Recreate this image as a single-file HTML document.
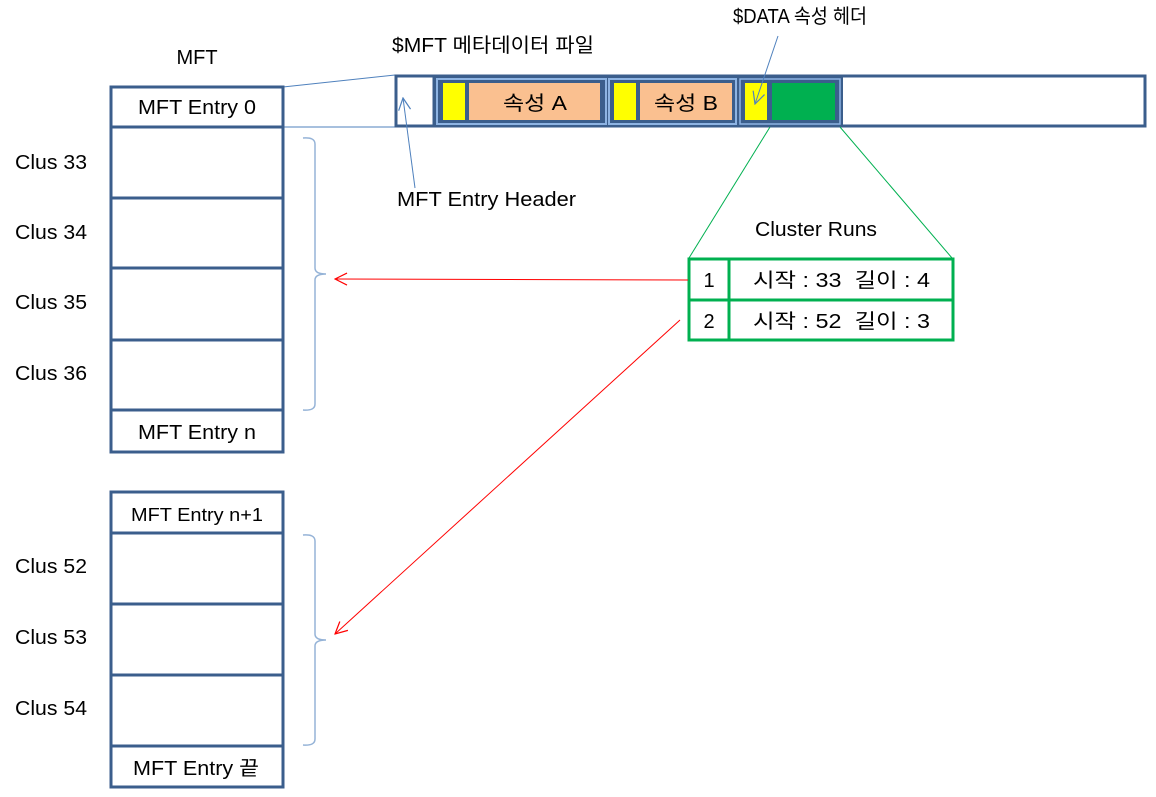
<!DOCTYPE html>
<html><head><meta charset="utf-8"><style>
html,body{margin:0;padding:0;background:#fff;}
svg{display:block;}
text{font-family:"Liberation Sans","Noto Sans CJK KR",sans-serif;font-size:20px;fill:#000;}
</style></head><body>
<svg width="1156" height="797" viewBox="0 0 1156 797" xmlns="http://www.w3.org/2000/svg">
<defs>
<marker id="ab" markerWidth="14" markerHeight="14" refX="13" refY="7" orient="auto" markerUnits="userSpaceOnUse"><path d="M1,1 L13,7 L1,13" fill="none" stroke="#4F81BD" stroke-width="1.2"/></marker>
<marker id="ar" markerWidth="14" markerHeight="14" refX="13" refY="7" orient="auto" markerUnits="userSpaceOnUse"><path d="M1,1 L13,7 L1,13" fill="none" stroke="#FF0000" stroke-width="1.2"/></marker>
</defs>

<text x="197" y="64" text-anchor="middle">MFT</text>
<text x="392" y="52" textLength="202" lengthAdjust="spacingAndGlyphs">$MFT 메타데이터 파일</text>
<text x="733" y="23" textLength="134" lengthAdjust="spacingAndGlyphs">$DATA 속성 헤더</text>

<line x1="283" y1="87" x2="395" y2="75" stroke="#4F81BD" stroke-width="1"/>
<line x1="283" y1="127" x2="395" y2="127" stroke="#4F81BD" stroke-width="1"/>

<rect x="396" y="76" width="749" height="50" fill="#fff" stroke="#3B5E8C" stroke-width="3"/>
<rect x="434" y="76" width="409" height="50" fill="#3B5E8C"/>
<rect x="396" y="76" width="38" height="50" fill="#fff" stroke="#3B5E8C" stroke-width="3"/>
<rect x="437" y="79" width="169" height="45" fill="#3B5E8C" stroke="#8EB4E3" stroke-width="2"/>
<rect x="609" y="79" width="127" height="45" fill="#3B5E8C" stroke="#8EB4E3" stroke-width="2"/>
<rect x="740" y="79" width="100" height="45" fill="#3B5E8C" stroke="#8EB4E3" stroke-width="1.5"/>
<rect x="443" y="83" width="22" height="37" fill="#FFFF00"/>
<rect x="469" y="83" width="131" height="37" fill="#FAC090"/>
<rect x="614" y="83" width="22" height="37" fill="#FFFF00"/>
<rect x="640" y="83" width="92" height="37" fill="#FAC090"/>
<rect x="745" y="83" width="22" height="37" fill="#FFFF00"/>
<rect x="772" y="83" width="63" height="37" fill="#00B050"/>
<text x="503" y="110" textLength="64" lengthAdjust="spacingAndGlyphs">속성 A</text>
<text x="654" y="110" textLength="64" lengthAdjust="spacingAndGlyphs">속성 B</text>

<line x1="415" y1="188" x2="403" y2="98" stroke="#4F81BD" stroke-width="1" marker-end="url(#ab)"/>
<line x1="778" y1="36" x2="755" y2="104" stroke="#4F81BD" stroke-width="1" marker-end="url(#ab)"/>
<text x="397" y="206" textLength="179" lengthAdjust="spacingAndGlyphs">MFT Entry Header</text>

<line x1="770" y1="127" x2="689" y2="258" stroke="#00B050" stroke-width="1"/>
<line x1="840" y1="127" x2="952" y2="258" stroke="#00B050" stroke-width="1"/>
<text x="755" y="236" textLength="122" lengthAdjust="spacingAndGlyphs">Cluster Runs</text>

<rect x="689" y="259" width="264" height="81" fill="#fff" stroke="#00B050" stroke-width="3"/>
<line x1="689" y1="300" x2="953" y2="300" stroke="#00B050" stroke-width="3"/>
<line x1="729" y1="259" x2="729" y2="340" stroke="#00B050" stroke-width="3"/>
<text x="709" y="287" text-anchor="middle">1</text>
<text x="709" y="328" text-anchor="middle">2</text>
<text x="753" y="287" textLength="177" lengthAdjust="spacingAndGlyphs" xml:space="preserve">시작 : 33  길이 : 4</text>
<text x="753" y="328" textLength="177" lengthAdjust="spacingAndGlyphs" xml:space="preserve">시작 : 52  길이 : 3</text>

<line x1="688" y1="280" x2="335" y2="279" stroke="#FF0000" stroke-width="1" marker-end="url(#ar)"/>
<line x1="680" y1="320" x2="335" y2="634" stroke="#FF0000" stroke-width="1" marker-end="url(#ar)"/>

<g fill="none" stroke="#3B5E8C" stroke-width="3">
<rect x="111" y="87" width="172" height="365" fill="#fff"/>
<line x1="111" y1="127" x2="283" y2="127"/>
<line x1="111" y1="198" x2="283" y2="198"/>
<line x1="111" y1="268" x2="283" y2="268"/>
<line x1="111" y1="340" x2="283" y2="340"/>
<line x1="111" y1="410" x2="283" y2="410"/>
<rect x="111" y="492" width="172" height="295" fill="#fff"/>
<line x1="111" y1="533" x2="283" y2="533"/>
<line x1="111" y1="604" x2="283" y2="604"/>
<line x1="111" y1="675" x2="283" y2="675"/>
<line x1="111" y1="746" x2="283" y2="746"/>
</g>
<text x="138" y="114" textLength="118" lengthAdjust="spacingAndGlyphs">MFT Entry 0</text>
<text x="138" y="439" textLength="118" lengthAdjust="spacingAndGlyphs">MFT Entry n</text>
<text x="131" y="521" textLength="132" lengthAdjust="spacingAndGlyphs" style="font-size:18px">MFT Entry n+1</text>
<text x="133" y="775" textLength="126" lengthAdjust="spacingAndGlyphs">MFT Entry 끝</text>

<text x="15" y="169" textLength="72" lengthAdjust="spacingAndGlyphs">Clus 33</text>
<text x="15" y="239" textLength="72" lengthAdjust="spacingAndGlyphs">Clus 34</text>
<text x="15" y="309" textLength="72" lengthAdjust="spacingAndGlyphs">Clus 35</text>
<text x="15" y="380" textLength="72" lengthAdjust="spacingAndGlyphs">Clus 36</text>
<text x="15" y="573" textLength="72" lengthAdjust="spacingAndGlyphs">Clus 52</text>
<text x="15" y="644" textLength="72" lengthAdjust="spacingAndGlyphs">Clus 53</text>
<text x="15" y="715" textLength="72" lengthAdjust="spacingAndGlyphs">Clus 54</text>

<path d="M303,138 Q315,137 315,144 L315,268 Q315,274 326,274 Q315,274 315,280 L315,404 Q315,411 303,410" fill="none" stroke="#95B3D7" stroke-width="1.5"/>
<path d="M303,535 Q315,534 315,541 L315,634 Q315,640 326,640 Q315,640 315,646 L315,739 Q315,746 303,745" fill="none" stroke="#95B3D7" stroke-width="1.5"/>
</svg>
</body></html>
